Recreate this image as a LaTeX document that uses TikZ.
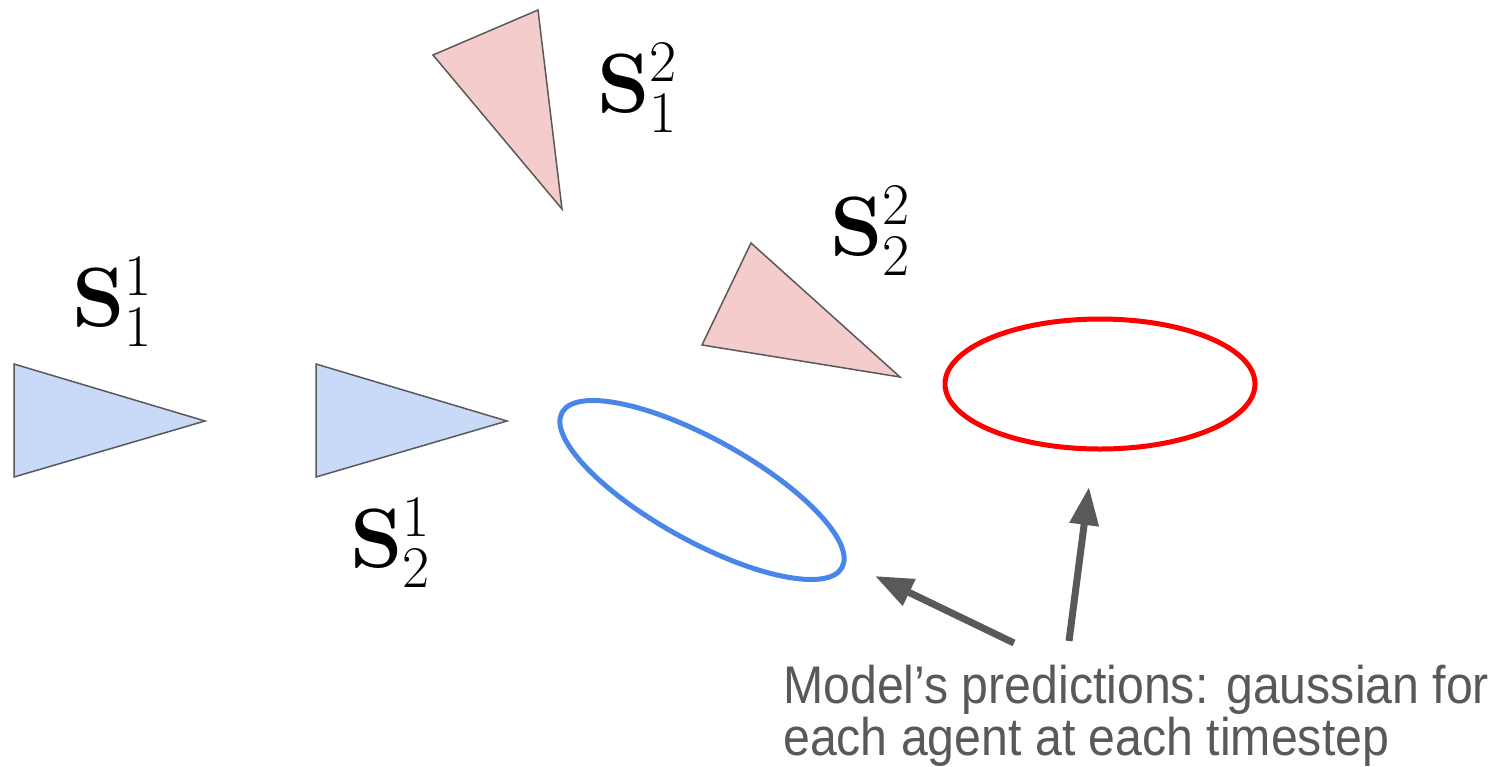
\RequirePackage{fix-cm}
\documentclass[tikz,border=0pt]{standalone}
\usepackage[no-math]{fontspec}
\newfontfamily\capfont[FakeStretch=0.91]{Liberation Sans}
\DeclareMathSizes{84}{84}{59}{42}
\usetikzlibrary{arrows.meta,shapes.geometric}
\definecolor{agentblue}{HTML}{C9DAF8}
\definecolor{agentpink}{HTML}{F4CCCC}
\definecolor{edgegray}{HTML}{595959}
\definecolor{gaussblue}{HTML}{4A86E8}
\definecolor{gaussred}{HTML}{FF0000}
\tikzset{
  agent/.style={draw=edgegray, line width=1.5pt, line join=miter},
  bluagent/.style={agent, fill=agentblue},
  pinkagent/.style={agent, fill=agentpink},
  gauss/.style={ellipse, line width=5pt, inner sep=0pt},
  statelabel/.style={anchor=base west, inner sep=0pt, font=\fontsize{84}{96}\selectfont},
  predarrow/.style={draw=edgegray, line width=7pt, -{Triangle[length=38pt,width=28pt]}},
}
\begin{document}
\begin{tikzpicture}[x=1pt,y=-1pt]
\useasboundingbox (0,0) rectangle (1488,766);
% agent 1 (blue)
\draw[bluagent] (14,364) -- (14,477) -- (205,421) -- cycle;
\draw[bluagent] (316,364) -- (316,477) -- (507,421) -- cycle;
% agent 2 (pink)
\draw[pinkagent] (433,55) -- (538,10) -- (562,209) -- cycle;
\draw[pinkagent] (751,243) -- (702,345) -- (900,377) -- cycle;
% labels
\node[statelabel] (s11) at (72,326) {$\mathbf{S}_1^1$};
\node[statelabel] (s21) at (350,567) {$\mathbf{S}_2^1$};
\node[statelabel] (s12) at (597,112) {$\mathbf{S}_1^2$};
\node[statelabel] (s22) at (830,255) {$\mathbf{S}_2^2$};
% gaussians
\node[gauss, draw=gaussblue, minimum width=320pt, minimum height=102pt, rotate=-29] (g1) at (702,490) {};
\node[gauss, draw=gaussred, minimum width=310pt, minimum height=130pt] (g2) at (1100,384) {};
% caption
\node[anchor=base west, inner sep=0pt, align=left, text=edgegray,
      font=\capfont\fontsize{53}{52}\selectfont] (cap) at (783,755)
  {Model’s predictions: gaussian for\\each agent at each timestep};
% arrows
\coordinate (a1s) at (1014,643);
\coordinate (a1e) at (875,576);
\coordinate (a2s) at (1069,641);
\coordinate (a2e) at (1089,487);
\draw[predarrow] (a1s) -- (a1e);
\draw[predarrow] (a2s) -- (a2e);
\end{tikzpicture}
\end{document}
